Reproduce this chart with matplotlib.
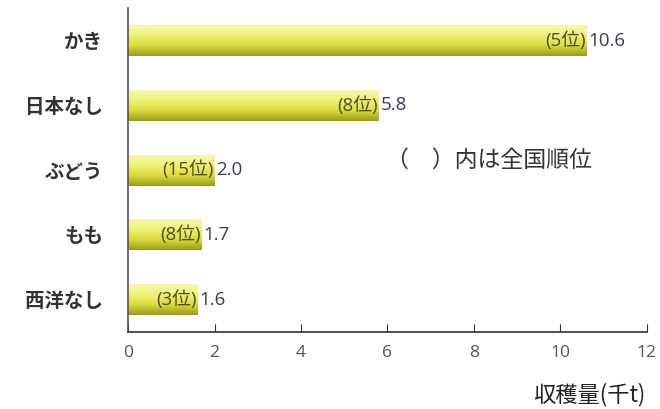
import numpy as np
import matplotlib
matplotlib.use("Agg")
import matplotlib.pyplot as plt
from matplotlib.colors import LinearSegmentedColormap

plt.rcParams['font.family'] = ['Noto Sans CJK JP', 'DejaVu Sans']
LATIN = ['Open Sans', 'Noto Sans CJK JP', 'DejaVu Sans']

# data
crops = ['かき', '日本なし', 'ぶどう', 'もも', '西洋なし']
harvest = [10.6, 5.8, 2.0, 1.7, 1.6]
ranks = ['(5位)', '(8位)', '(15位)', '(8位)', '(3位)']
xticks = [0, 2, 4, 6, 8, 10, 12]

fig = plt.figure(figsize=(6.6, 4.09), dpi=100)
ax = fig.add_axes([0.194, 0.188, 0.786, 0.792])

ypos = np.arange(len(crops))
bars = ax.barh(ypos, harvest, height=0.48, color='none', edgecolor='none')

# vertical gradient: light yellow on top, olive at the bottom
cmap = LinearSegmentedColormap.from_list('bar', ['#f7f8b8', '#f2f27a', '#dcdc40', '#9c9c1c'])
grad = np.linspace(0, 1, 64).reshape(-1, 1)
for b in bars:
    x0, y0 = b.get_x(), b.get_y()
    w, h = b.get_width(), b.get_height()
    im = ax.imshow(grad, cmap=cmap, aspect='auto',
                   extent=[x0, x0 + w, y0 + h, y0], origin='upper', zorder=2)
    im.set_clip_path(b)

ax.set_xlim(0, 12)
ax.set_ylim(4.5, -0.5)

for y, v, r in zip(ypos, harvest, ranks):
    ax.text(v - 0.02, y, r, ha='right', va='center', fontsize=13.5, color='#4e4e24',
            family=LATIN, zorder=3)
    ax.text(v + 0.04, y, f'{v:.1f}', ha='left', va='center', fontsize=13.5, color='#3c3c4e',
            family=LATIN, zorder=3)

ax.set_yticks(ypos)
ax.set_yticklabels(crops, fontsize=14, fontweight='bold', color='#333333')
ax.tick_params(axis='y', length=0, pad=18)
ax.set_xticks(xticks)
ax.set_xticklabels([str(t) for t in xticks], fontsize=12.5, color='#555555', family=LATIN)
ax.tick_params(axis='x', direction='in', length=6, color='#333333', pad=9)

for s in ['top', 'right']:
    ax.spines[s].set_visible(False)
ax.spines['left'].set_color('#555555')
ax.spines['bottom'].set_color('#333333')
ax.spines['left'].set_linewidth(1.2)
ax.spines['bottom'].set_linewidth(1.2)

fig.text(0.585, 0.609, '（　）内は全国順位', fontsize=16.5, color='#333333', ha='left', va='center')
fig.text(0.978, 0.035, '収穫量(千t)', fontsize=16, color='#222222', ha='right', va='center',
         family=['Noto Sans CJK JP', 'DejaVu Sans'])

fig.savefig('out.png', dpi=100)
